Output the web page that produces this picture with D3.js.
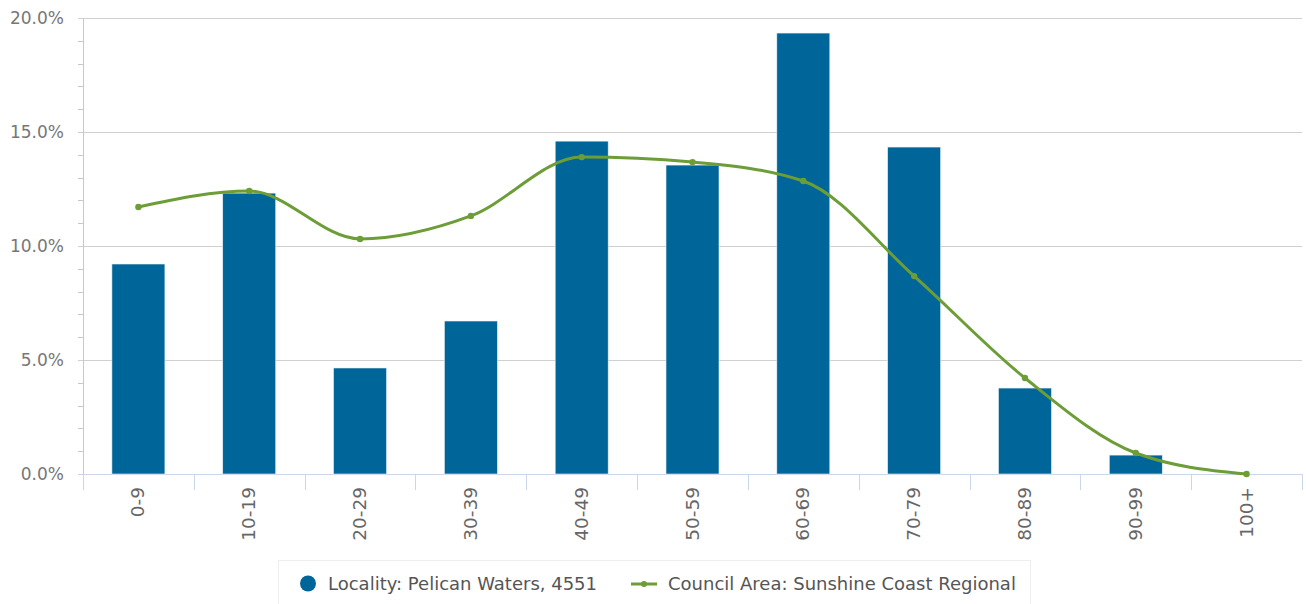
<!DOCTYPE html>
<html>
<head>
<meta charset="utf-8">
<script src="https://cdn.jsdelivr.net/npm/d3@7"></script>
<style>
  body { margin: 0; background: #fff; font-family: "DejaVu Sans", sans-serif; }
</style>
</head>
<body>
<script>
const ageGroups = ["0-9", "10-19", "20-29", "30-39", "40-49", "50-59", "60-69", "70-79", "80-89", "90-99", "100+"];
const localityPct = [9.21, 12.32, 4.65, 6.71, 14.6, 13.55, 19.34, 14.34, 3.77, 0.83, 0];
const councilPct = [11.71, 12.41, 10.31, 11.32, 13.9, 13.68, 12.85, 8.68, 4.21, 0.92, 0];
const yTicks = [0, 5, 10, 15, 20];
const localityName = "Locality: Pelican Waters, 4551";
const councilName = "Council Area: Sunshine Coast Regional";

const width = 1306, height = 604;
const plotLeft = 83, plotRight = 1302, plotTop = 18, plotBottom = 474;
const barColor = "#006699";
const lineColor = "#6c9d37";

const svg = d3.select("body").append("svg")
  .attr("width", width)
  .attr("height", height);

const x = d3.scaleBand().domain(ageGroups).range([plotLeft, plotRight]);
const y = d3.scaleLinear().domain([0, 20]).range([plotBottom, plotTop]);

// horizontal grid
svg.append("g")
  .selectAll("line")
  .data(yTicks)
  .join("line")
  .attr("x1", plotLeft - 5)
  .attr("x2", plotRight)
  .attr("y1", d => Math.round(y(d)) + 0.5)
  .attr("y2", d => Math.round(y(d)) + 0.5)
  .attr("stroke", "#d0d0d0");

// minor ticks on y axis
const minor = d3.range(0, 20, 1).filter(v => v % 5 !== 0);
svg.append("g")
  .selectAll("line")
  .data(minor)
  .join("line")
  .attr("x1", plotLeft - 5)
  .attr("x2", plotLeft)
  .attr("y1", d => Math.round(y(d)) + 0.5)
  .attr("y2", d => Math.round(y(d)) + 0.5)
  .attr("stroke", "#c8c8c8");

// y axis line
svg.append("line")
  .attr("x1", plotLeft + 0.5).attr("x2", plotLeft + 0.5)
  .attr("y1", plotTop).attr("y2", plotBottom)
  .attr("stroke", "#c8c8c8");

// y labels
svg.append("g")
  .selectAll("text")
  .data(yTicks)
  .join("text")
  .attr("x", plotLeft - 19)
  .attr("y", d => y(d) + 6)
  .attr("text-anchor", "end")
  .attr("font-size", "17px")
  .attr("fill", "#777")
  .text(d => d.toFixed(1) + "%");

// x axis ticks
const xTickPos = ageGroups.map(g => x(g)).concat([plotRight]);
svg.append("g")
  .selectAll("line")
  .data(xTickPos)
  .join("line")
  .attr("x1", d => Math.round(d) + 0.5)
  .attr("x2", d => Math.round(d) + 0.5)
  .attr("y1", plotBottom)
  .attr("y2", plotBottom + 16)
  .attr("stroke", "#ccd6eb");

svg.append("line")
  .attr("x1", plotLeft).attr("x2", plotRight)
  .attr("y1", plotBottom + 0.5).attr("y2", plotBottom + 0.5)
  .attr("stroke", "#ccd6eb");

// x labels
svg.append("g")
  .selectAll("text")
  .data(ageGroups)
  .join("text")
  .attr("transform", d => `translate(${x(d) + x.bandwidth() / 2 + 6},${plotBottom + 13}) rotate(-90)`)
  .attr("text-anchor", "end")
  .attr("font-size", "18.5px")
  .attr("fill", "#666")
  .text(d => d);

// bars
const barW = 53;
svg.append("g")
  .selectAll("rect")
  .data(ageGroups.map((g, i) => ({ g, v: localityPct[i] })).filter(d => d.v > 0))
  .join("rect")
  .attr("x", d => x(d.g) + x.bandwidth() / 2 - barW / 2)
  .attr("y", d => y(d.v))
  .attr("width", barW)
  .attr("height", d => plotBottom - y(d.v))
  .attr("fill", barColor)
  .attr("stroke", "#e8f1f6")
  .attr("stroke-width", 0.6);

// council line
const pts = ageGroups.map((g, i) => [x(g) + x.bandwidth() / 2, y(councilPct[i])]);
svg.append("path")
  .attr("d", d3.line().curve(d3.curveMonotoneX)(pts))
  .attr("fill", "none")
  .attr("stroke", lineColor)
  .attr("stroke-width", 3);

svg.append("g")
  .selectAll("circle")
  .data(pts)
  .join("circle")
  .attr("cx", d => d[0])
  .attr("cy", d => d[1])
  .attr("r", 3.2)
  .attr("fill", lineColor);

// legend
const lg = svg.append("g");
lg.append("rect")
  .attr("x", 278.5).attr("y", 560.5)
  .attr("width", 752).attr("height", 50)
  .attr("fill", "#fff")
  .attr("stroke", "#eeeeee");
lg.append("circle")
  .attr("cx", 308).attr("cy", 583.5).attr("r", 8)
  .attr("fill", barColor);
lg.append("text")
  .attr("x", 328).attr("y", 590)
  .attr("font-size", "18px")
  .attr("fill", "#555")
  .text(localityName);
lg.append("line")
  .attr("x1", 631).attr("x2", 657)
  .attr("y1", 584).attr("y2", 584)
  .attr("stroke", lineColor).attr("stroke-width", 3);
lg.append("circle")
  .attr("cx", 644).attr("cy", 584).attr("r", 3)
  .attr("fill", lineColor);
lg.append("text")
  .attr("x", 668).attr("y", 590)
  .attr("font-size", "18px")
  .attr("fill", "#555")
  .text(councilName);
</script>
</body>
</html>
